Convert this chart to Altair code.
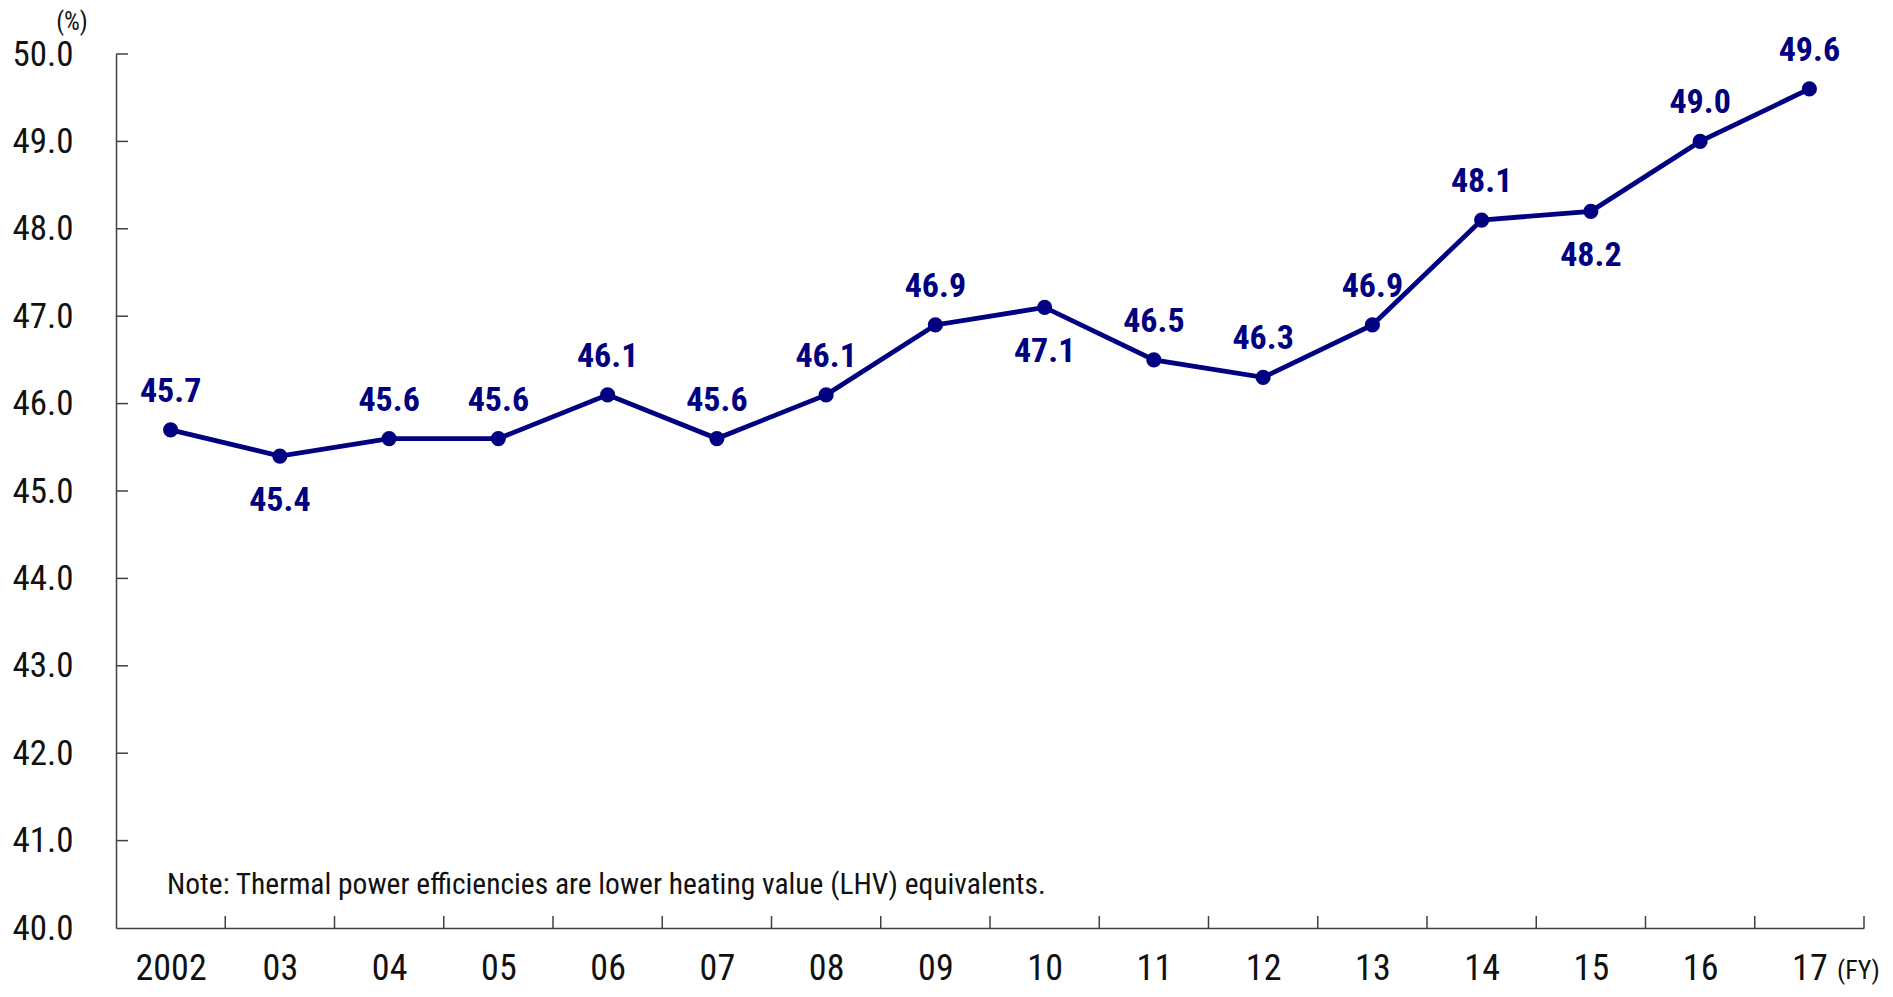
import json
import altair as alt
import pandas as pd

# ---- data ----
years = ["2002", "03", "04", "05", "06", "07", "08", "09", "10", "11", "12", "13", "14", "15", "16", "17"]
values = [45.7, 45.4, 45.6, 45.6, 46.1, 45.6, 46.1, 46.9, 47.1, 46.5, 46.3, 46.9, 48.1, 48.2, 49.0, 49.6]
label_pos = ["above", "below", "above", "above", "above", "above", "above", "above",
             "below", "above", "above", "above", "above", "below", "above", "above"]
y_tick_values = [40, 41, 42, 43, 44, 45, 46, 47, 48, 49, 50]
note_text = "Note: Thermal power efficiencies are lower heating value (LHV) equivalents."
y_unit = "(%)"
x_unit = "(FY)"

NAVY = "#000080"
AXIS_COLOR = "#404040"
TEXT_COLOR = "#111111"
FONT = "Roboto Condensed, Liberation Sans, Arial, sans-serif"

W, H = 1748, 874

df = pd.DataFrame({"idx": list(range(len(years))), "year": years, "value": values, "pos": label_pos})
xb_df = pd.DataFrame({"idx": [i + 0.5 for i in range(len(years))]})
yt_df = pd.DataFrame({"value": y_tick_values[1:]})

xscale = alt.Scale(domain=[-0.5, len(years) - 0.5], nice=False, zero=False)
yscale = alt.Scale(domain=[40, 50], nice=False, zero=False)

label_expr = json.dumps(years) + "[datum.value]"

x_axis = alt.Axis(values=list(range(len(years))), labelExpr=label_expr, ticks=False, tickSize=0,
                  grid=False, title=None, labelFont=FONT, labelFontSize=36, labelColor=TEXT_COLOR,
                  labelBaseline="alphabetic", labelPadding=51, domainColor=AXIS_COLOR,
                  domainWidth=1.5, labelFlush=False, labelOverlap=False)
y_axis = alt.Axis(values=y_tick_values, format=".1f", ticks=False, tickSize=0, grid=False, title=None,
                  labelFont=FONT, labelFontSize=35, labelColor=TEXT_COLOR, labelPadding=43,
                  labelBaseline="middle", domainColor=AXIS_COLOR, domainWidth=1.5,
                  labelFlush=False, labelOverlap=False)

X = alt.X("idx:Q", scale=xscale, axis=x_axis)
Y = alt.Y("value:Q", scale=yscale, axis=y_axis)

base = alt.Chart(df)

line = base.mark_line(color=NAVY, strokeWidth=4.8).encode(x=X, y=Y)

points = base.mark_circle(size=230, color=NAVY, opacity=1).encode(x=X, y=Y)

lab_above = base.transform_filter(alt.datum.pos == "above").mark_text(
    dy=-28, align="center", baseline="alphabetic", font=FONT, fontSize=34, fontWeight="bold", color=NAVY
).encode(x=X, y=Y, text=alt.Text("value:Q", format=".1f"))

lab_below = base.transform_filter(alt.datum.pos == "below").mark_text(
    dy=55, align="center", baseline="alphabetic", font=FONT, fontSize=34, fontWeight="bold", color=NAVY
).encode(x=X, y=Y, text=alt.Text("value:Q", format=".1f"))

x_ticks = alt.Chart(xb_df).mark_rule(color=AXIS_COLOR, strokeWidth=1.5).encode(
    x=X, y=alt.value(H), y2=alt.value(H - 12),
)

y_ticks = alt.Chart(yt_df).mark_rule(color=AXIS_COLOR, strokeWidth=1.5).encode(
    y=Y, x=alt.value(0), x2=alt.value(12),
)

note = alt.Chart(pd.DataFrame({"t": [note_text]})).mark_text(
    align="left", baseline="alphabetic", font=FONT, fontSize=29.5, color=TEXT_COLOR
).encode(x=alt.value(51), y=alt.value(840), text="t:N")

yunit = alt.Chart(pd.DataFrame({"t": [y_unit]})).mark_text(
    align="center", baseline="alphabetic", font=FONT, fontSize=25, color=TEXT_COLOR
).encode(x=alt.value(-44), y=alt.value(-24), text="t:N")

xunit = alt.Chart(pd.DataFrame({"t": [x_unit]})).mark_text(
    align="left", baseline="alphabetic", font=FONT, fontSize=26, color=TEXT_COLOR
).encode(x=alt.value(1721), y=alt.value(H + 51), text="t:N")

chart = alt.layer(line, x_ticks, y_ticks, points, lab_above, lab_below, note, yunit, xunit).properties(
    width=W, height=H,
    autosize=alt.AutoSizeParams(type="none"),
    padding={"left": 108, "top": 46, "right": 21, "bottom": 61},
).configure_view(stroke=None)

chart.save("out.html", embed_options={"renderer": "svg", "actions": False})
